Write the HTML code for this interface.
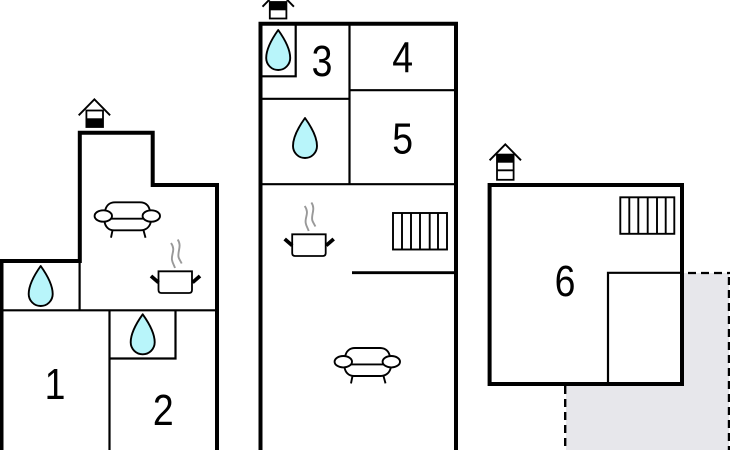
<!DOCTYPE html>
<html>
<head>
<meta charset="utf-8">
<style>
html,body{margin:0;padding:0;background:#fff;}
svg{display:block;}
text{font-family:"Liberation Sans",sans-serif;font-size:44px;fill:#000;text-anchor:middle;}
</style>
</head>
<body>
<svg width="730" height="450" viewBox="0 0 730 450" xmlns="http://www.w3.org/2000/svg">
<defs>
  <path id="drop" d="M0 0C-5 7-12 18-12 28A12 12 0 0 0 12 28C12 18 5 7 0 0Z" fill="#b8f5fa" stroke="#000" stroke-width="1.9" stroke-linejoin="round"/>
  <g id="sofa" fill="none" stroke="#000" stroke-width="1.9">
    <path d="M105 211.5C106 205 110 202.3 115 202.3H140C146 202.3 149 206 150 211"/>
    <path d="M104.5 221C105 227 109 230.3 114 230.3H140C146 230.3 150 227 151 221"/>
    <path d="M110 218.7H144"/>
    <path d="M112.5 230.3L111 237.7M143.5 230.3L145.5 237.7"/>
    <ellipse cx="103.3" cy="216" rx="8.7" ry="5.7" fill="#fff"/>
    <ellipse cx="151.3" cy="216" rx="8.7" ry="5.7" fill="#fff"/>
  </g>
  <g id="pot" fill="none">
    <path d="M158.5 271.3H192V290C192 292 191 293 189 293H161.5C159.5 293 158.5 292 158.5 290Z" stroke="#000" stroke-width="1.8"/>
    <path d="M151 276L158.5 282.5M200 276L192.5 282.5" stroke="#000" stroke-width="3.8"/>
    <path d="M171 243C176 250 171 254 172 260C172.5 263 174 265 175 268M177.7 239.5C182 246 177.5 251 178.5 257C179 259 180.5 261 181.7 263.5" stroke="#999" stroke-width="1.9"/>
  </g>
  <path id="roof" d="M-15.7 16L0 0L15.7 16" fill="none" stroke="#000" stroke-width="1.9"/>
</defs>

<rect width="730" height="450" fill="#fff"/>

<!-- terrace -->
<path d="M684 273H729V450H566V386H684Z" fill="#e7e7eb"/>
<path d="M688 273H730" stroke="#000" stroke-width="2.2" stroke-dasharray="8 5" fill="none"/>
<path d="M729 277V450" stroke="#000" stroke-width="2.4" stroke-dasharray="8 5" fill="none"/>
<path d="M565.2 386V450" stroke="#000" stroke-width="2.4" stroke-dasharray="8 5" fill="none"/>

<!-- left building thin walls -->
<g fill="none" stroke="#000" stroke-width="2.2">
  <path d="M0 310.3H217"/>
  <path d="M79.6 261V310"/>
  <path d="M109.5 310V450"/>
  <path d="M175.5 310V358.5H109.5"/>
</g>
<path d="M1.5 450V261H79.8V132.7H152.7V185H217V450" fill="none" stroke="#000" stroke-width="4"/>

<!-- middle building thin walls -->
<g fill="none" stroke="#000" stroke-width="2.2">
  <path d="M349.5 24V184"/>
  <path d="M261 184.2H456"/>
  <path d="M261 98.8H349.5"/>
  <path d="M349.5 90.2H456"/>
  <path d="M295.7 24V76.3H261"/>
</g>
<path d="M352 272.7H456" stroke="#000" stroke-width="2.8"/>
<path d="M260.5 450V23.8H456V450" fill="none" stroke="#000" stroke-width="4"/>

<!-- right building -->
<path d="M608 384V272.8H682" fill="none" stroke="#000" stroke-width="2.2"/>
<rect x="489.6" y="185" width="192.4" height="199" fill="none" stroke="#000" stroke-width="4"/>

<!-- drops -->
<use href="#drop" x="40.7" y="266"/>
<use href="#drop" x="142.7" y="314.3"/>
<use href="#drop" x="278.2" y="30"/>
<use href="#drop" x="305" y="118"/>

<!-- sofas and pots -->
<use href="#sofa"/>
<use href="#sofa" x="240" y="145.7"/>
<use href="#pot"/>
<use href="#pot" x="133.7" y="-37"/>

<!-- radiators -->
<g fill="none" stroke="#000" stroke-width="1.9">
  <rect x="393" y="213" width="54" height="36.5"/>
  <path d="M402 213V249.5M411 213V249.5M420 213V249.5M429.7 213V249.5M438 213V249.5"/>
  <rect x="620.3" y="197.3" width="54" height="36.5"/>
  <path d="M629.3 197.3V233.8M638.3 197.3V233.8M647.7 197.3V233.8M657 197.3V233.8M665.7 197.3V233.8"/>
</g>

<!-- chimneys -->
<use href="#roof" x="94.4" y="99.3"/>
<rect x="86.4" y="110.5" width="16.6" height="16.5" fill="#fff" stroke="#000" stroke-width="1.8"/>
<rect x="86" y="118.3" width="17.4" height="9" fill="#000"/>

<use href="#roof" x="278.2" y="-9.3"/>
<rect x="269.8" y="2" width="16.6" height="16.5" fill="#fff" stroke="#000" stroke-width="1.8"/>
<rect x="269.5" y="2.5" width="17.4" height="7.8" fill="#000"/>

<use href="#roof" x="505.3" y="144.3"/>
<rect x="497" y="154.6" width="16.6" height="25.2" fill="#fff" stroke="#000" stroke-width="1.8"/>
<rect x="496.6" y="154.3" width="17.4" height="8.4" fill="#000"/>
<path d="M497 170.3H514" stroke="#000" stroke-width="1.8"/>

<!-- labels -->
<text transform="translate(55 399) scale(.85 1)">1</text>
<text transform="translate(163.3 425) scale(.85 1)">2</text>
<text transform="translate(322 76) scale(.85 1)">3</text>
<text transform="translate(402.7 72.5) scale(.85 1)">4</text>
<text transform="translate(402.7 153.3) scale(.85 1)">5</text>
<text transform="translate(565 296) scale(.85 1)">6</text>
</svg>
</body>
</html>
